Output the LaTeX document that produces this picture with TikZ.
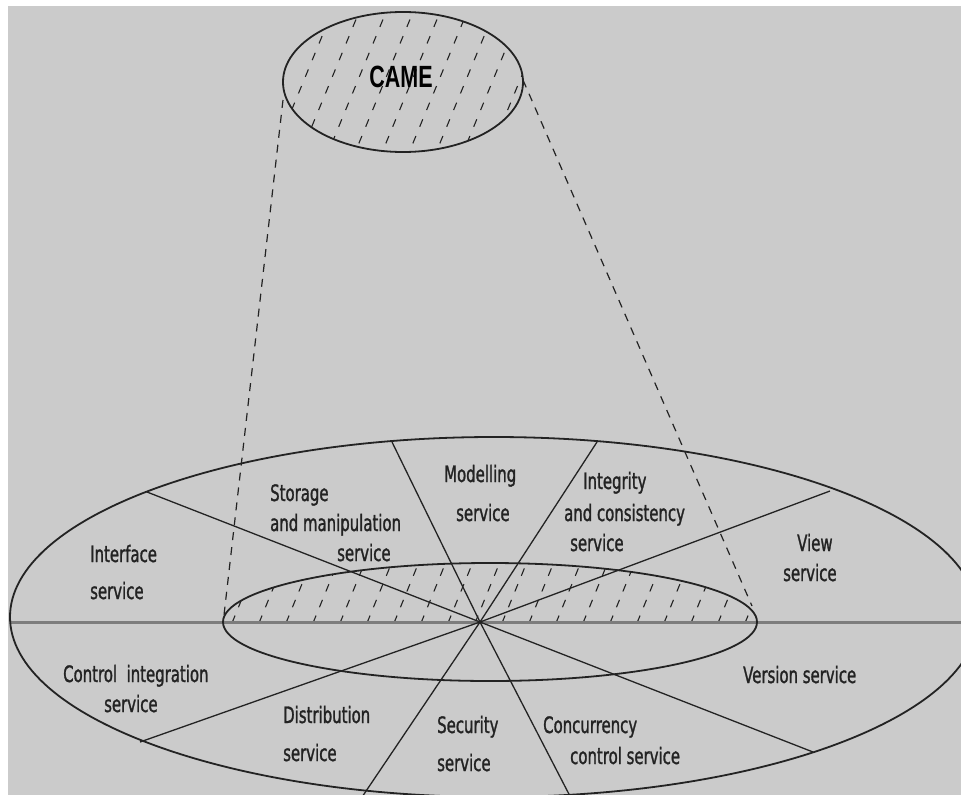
\documentclass[tikz,border=0pt]{standalone}
\usepackage{fontspec}
\newfontfamily\labfont[FakeStretch=0.66, FakeBold=1.2]{DejaVu Sans}
\newfontfamily\camefont[FakeStretch=0.70]{Liberation Sans}
\definecolor{paper}{RGB}{203,203,203}
\definecolor{ink}{RGB}{35,35,35}
\definecolor{axis}{RGB}{125,125,125}
\tikzset{
  outline/.style={draw=ink, line width=1.8pt},
  spoke/.style={draw=ink, line width=1.3pt},
  cone/.style={draw=ink, line width=1.2pt, dash pattern=on 8pt off 7pt},
  hatch/.style={draw=ink, line width=1.1pt, dash pattern=on 8pt off 10pt},
  lab/.style={inner sep=0pt, anchor=base west, text=ink,
              font=\labfont\fontsize{22.6}{27}\selectfont},
}
\begin{document}
\begin{tikzpicture}[x=1pt, y=-1pt]
  \useasboundingbox (0,0) rectangle (961,795);
  \fill[white] (0,0) rectangle (961,795);
  \fill[paper] (8,6) rectangle (961,795);
  \clip (8,6) rectangle (961,795);

  % key points
  \coordinate (O) at (480,622);
  \coordinate (bigC) at (494,617);
  \coordinate (smallC) at (490,622);
  \coordinate (cameC) at (403,82);

  % hatching of the CAME disc
  \begin{scope}
    \clip (cameC) ellipse [x radius=120pt, y radius=70pt];
    \foreach \k in {-6,...,12}
      \draw[hatch] (190+27*\k,160) -- (190+27*\k+66,0);
  \end{scope}

  % hatching of the upper half of the inner disc
  \begin{scope}
    \clip (200,520) rectangle (780,622);
    \clip (smallC) ellipse [x radius=267pt, y radius=59pt];
    \foreach \k in {-2,...,24}
      \draw[hatch, dash pattern=on 8pt off 9pt] (205+27*\k,623) -- (205+27*\k+27,557);
  \end{scope}

  % horizontal axis
  \coordinate (hL) at (10,622.5);
  \coordinate (hR) at (961,622.5);
  \draw[axis, line width=3.2pt] (hL) -- (hR);

  % outer and inner discs
  \draw[outline] (bigC) ellipse [x radius=484pt, y radius=180pt];
  \draw[outline] (smallC) ellipse [x radius=267pt, y radius=59pt];

  % spokes through the centre
  \coordinate (s1) at (147,492);  \coordinate (s1b) at (813,752);
  \coordinate (s2) at (392,442);  \coordinate (s2b) at (572,800);
  \coordinate (s3) at (597,442);  \coordinate (s3b) at (360,800);
  \coordinate (s4) at (830,491);  \coordinate (s4b) at (140,742);
  \draw[spoke] (s1) -- (O) -- (s1b);
  \draw[spoke] (s2) -- (O) -- (s2b);
  \draw[spoke] (s3) -- (O) -- (s3b);
  \draw[spoke] (s4) -- (O) -- (s4b);

  % projection cone
  \coordinate (cL) at (283,100);  \coordinate (cLb) at (224,615);
  \coordinate (cR) at (523,80);   \coordinate (cRb) at (752,606);
  \draw[cone] (cL) -- (cLb);
  \draw[cone] (cR) -- (cRb);

  % CAME disc
  \draw[outline] (cameC) ellipse [x radius=120pt, y radius=70pt];
  \node[inner sep=0pt, text=black, font=\camefont\bfseries\fontsize{30.7}{34}\selectfont]
    (came) at (401,77) {CAME};

  % service labels
  \node[lab] (st1) at (270,501) {Storage};
  \node[lab] (st2) at (270,531) {and manipulation};
  \node[lab] (st3) at (337,561) {service};

  \node[lab] (mo1) at (444,482) {Modelling};
  \node[lab] (mo2) at (456,521) {service};

  \node[lab] (in1) at (583,489) {Integrity};
  \node[lab] (in2) at (564,521) {and consistency};
  \node[lab] (in3) at (570,551) {service};

  \node[lab] (vi1) at (797,551) {View};
  \node[lab] (vi2) at (783,581) {service};

  \node[lab] (if1) at (90,562) {Interface};
  \node[lab] (if2) at (90,599) {service};

  \node[lab] (ci1) at (63,682) {Control\ \ integration};
  \node[lab] (ci2) at (104,712) {service};

  \node[lab] (di1) at (283,723) {Distribution};
  \node[lab] (di2) at (283,761) {service};

  \node[lab] (se1) at (437,733) {Security};
  \node[lab] (se2) at (437,771) {service};

  \node[lab] (co1) at (543,733) {Concurrency};
  \node[lab] (co2) at (570,764) {control service};

  \node[lab] (ve1) at (743,683) {Version service};
\end{tikzpicture}
\end{document}
